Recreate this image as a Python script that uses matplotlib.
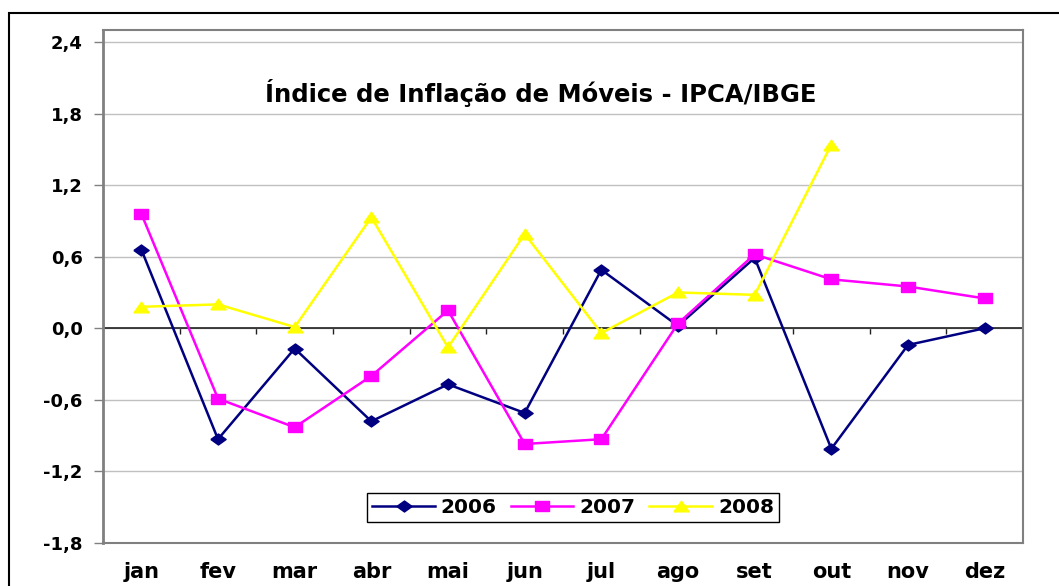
import matplotlib
matplotlib.use("Agg")
import matplotlib.pyplot as plt
from matplotlib.patches import Rectangle
from matplotlib.ticker import FuncFormatter, FixedLocator

plt.rcParams["font.family"] = ["DejaVu Sans"]
plt.rcParams["font.weight"] = "bold"

# dados
meses = ["jan", "fev", "mar", "abr", "mai", "jun", "jul", "ago", "set", "out", "nov", "dez"]
v2006 = [0.66, -0.93, -0.17, -0.78, -0.47, -0.71, 0.49, 0.02, 0.59, -1.01, -0.14, 0.00]
v2007 = [0.96, -0.59, -0.83, -0.40, 0.15, -0.97, -0.93, 0.04, 0.62, 0.41, 0.35, 0.25]
v2008 = [0.18, 0.20, 0.01, 0.93, -0.16, 0.79, -0.04, 0.30, 0.28, 1.54]
yticks = [-1.8, -1.2, -0.6, 0.0, 0.6, 1.2, 1.8, 2.4]
titulo = "Índice de Inflação de Móveis - IPCA/IBGE"

# marcadores "achatados" como no Excel
losango = [(-1, 0), (0, 0.72), (1, 0), (0, -0.72), (-1, 0)]
quadrado = [(-1, -0.7), (1, -0.7), (1, 0.7), (-1, 0.7), (-1, -0.7)]
triangulo = [(-1, -0.7), (1, -0.7), (0, 0.7), (-1, -0.7)]

fig = plt.figure(figsize=(10.59, 5.86), dpi=100)
ax = fig.add_axes([103 / 1059, 1 - 543 / 586, 920 / 1059, 513 / 586])

x = list(range(len(meses)))
ax.plot(x, v2006, color="#000080", lw=1.8, marker=losango, ms=11, label="2006")
ax.plot(x, v2007, color="#FF00FF", lw=1.8, marker=quadrado, ms=9.5, label="2007")
ax.plot(x[:len(v2008)], v2008, color="#FFFF00", lw=1.8, marker=triangulo, ms=11, label="2008")

ax.set_xlim(-0.5, 11.5)
ax.set_ylim(-1.8, 2.5)
ax.set_yticks(yticks)
ax.yaxis.set_major_formatter(FuncFormatter(lambda v, p: f"{v:.1f}".replace(".", ",")))
ax.grid(axis="y", color="#c0c0c0", lw=1)
ax.set_axisbelow(True)

ax.set_xticks(x)
ax.set_xticklabels(meses)
ax.tick_params(axis="x", length=0, pad=14, labelsize=15)
ax.tick_params(axis="y", length=6.5, width=1, color="#808080", pad=8, labelsize=13)
for lab in ax.get_xticklabels() + ax.get_yticklabels():
    lab.set_fontweight("bold")

for s in ax.spines.values():
    s.set_color("#808080")
    s.set_linewidth(1.5)
ax.spines["left"].set_linewidth(2)

# eixo das categorias cruzando em zero
ax.axhline(0, color="#202020", lw=1.2, zorder=1.5)
sec = ax.secondary_xaxis(0, transform=ax.transData)
sec.xaxis.set_major_locator(FixedLocator([i + 0.5 for i in range(11)]))
sec.tick_params(axis="x", length=4.5, width=1, color="#202020", labelbottom=False)
sec.spines["bottom"].set_visible(False)

ax.text(0.476, 0.860, titulo, transform=ax.transAxes, ha="center", va="baseline",
        fontsize=17.5, fontweight="bold")

leg = ax.legend(loc="center", bbox_to_anchor=(0.511, 0.070), ncol=3, fancybox=False,
                framealpha=1, edgecolor="black", prop={"size": 14.5, "weight": "bold"},
                handlelength=3.1, handletextpad=0.3, columnspacing=0.7, borderpad=0.25)
leg.get_frame().set_linewidth(1)

fig.patches.append(Rectangle((9 / 1059, -0.1), 1.2, 1 - 13 / 586 + 0.1, transform=fig.transFigure,
                             fill=False, edgecolor="black", lw=1.5))

fig.savefig("out.png", dpi=100)
